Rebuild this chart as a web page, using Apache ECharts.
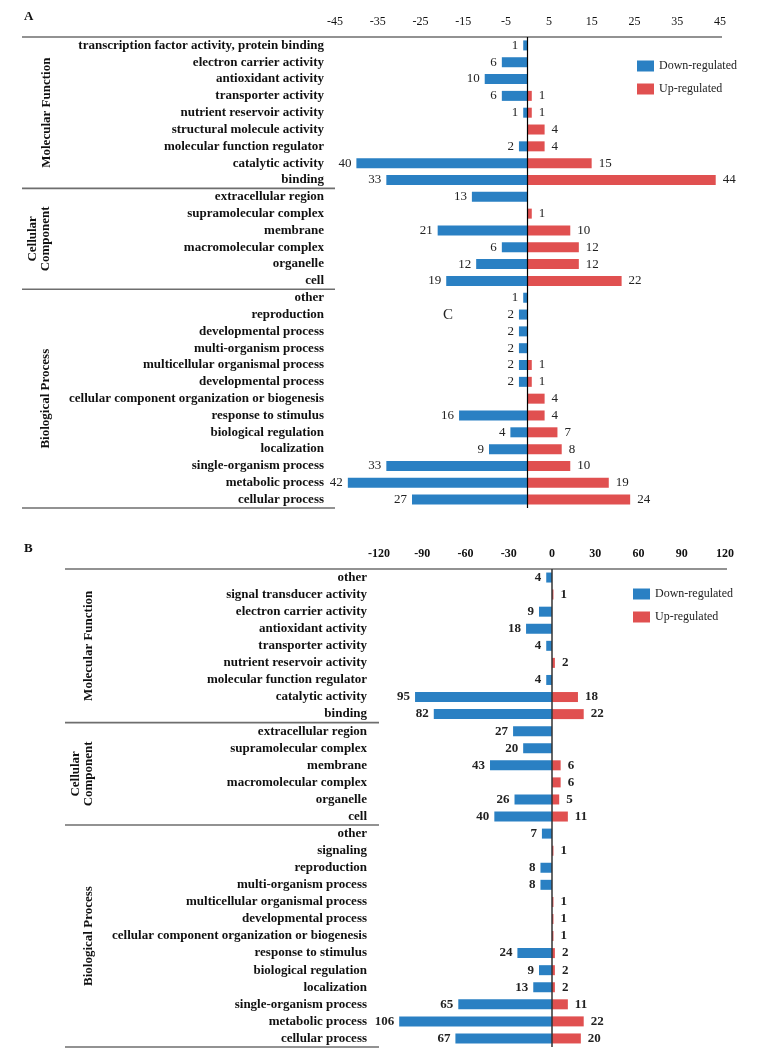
<!DOCTYPE html>
<html>
<head>
<meta charset="utf-8">
<script src="https://cdn.jsdelivr.net/npm/echarts@6/dist/echarts.min.js"></script>
<style>
  html, body { margin: 0; padding: 0; background: #fff; }
  #chart { width: 766px; height: 1057px; }
</style>
</head>
<body>
<div id="chart"></div>
<script>
// panel A
var termsA = [
  'transcription factor activity, protein binding', 'electron carrier activity', 'antioxidant activity',
  'transporter activity', 'nutrient reservoir activity', 'structural molecule activity',
  'molecular function regulator', 'catalytic activity', 'binding',
  'extracellular region', 'supramolecular complex', 'membrane', 'macromolecular complex', 'organelle', 'cell',
  'other', 'reproduction', 'developmental process', 'multi-organism process', 'multicellular organismal process',
  'developmental process ', 'cellular component organization or biogenesis', 'response to stimulus',
  'biological regulation', 'localization', 'single-organism process', 'metabolic process', 'cellular process'
];
var downA = [1, 6, 10, 6, 1, null, 2, 40, 33, 13, null, 21, 6, 12, 19, 1, 2, 2, 2, 2, 2, null, 16, 4, 9, 33, 42, 27];
var upA = [null, null, null, 1, 1, 4, 4, 15, 44, null, 1, 10, 12, 12, 22, null, null, null, null, 1, 1, 4, 4, 7, 8, 10, 19, 24];
var ticksA = [-45, -35, -25, -15, -5, 5, 15, 25, 35, 45];

// panel B
var termsB = [
  'other', 'signal transducer activity', 'electron carrier activity', 'antioxidant activity',
  'transporter activity', 'nutrient reservoir activity', 'molecular function regulator', 'catalytic activity', 'binding',
  'extracellular region', 'supramolecular complex', 'membrane', 'macromolecular complex', 'organelle', 'cell',
  'other ', 'signaling', 'reproduction', 'multi-organism process', 'multicellular organismal process',
  'developmental process', 'cellular component organization or biogenesis', 'response to stimulus',
  'biological regulation', 'localization', 'single-organism process', 'metabolic process', 'cellular process'
];
var downB = [4, null, 9, 18, 4, null, 4, 95, 82, 27, 20, 43, null, 26, 40, 7, null, 8, 8, null, null, null, 24, 9, 13, 65, 106, 67];
var upB = [null, 1, null, null, null, 2, null, 18, 22, null, null, 6, 6, 5, 11, null, 1, null, null, 1, 1, 1, 2, 2, 2, 11, 22, 20];
var ticksB = [-120, -90, -60, -30, 0, 30, 60, 90, 120];

// GO groups: first and last row index
var groups = [
  { name: 'Molecular Function', from: 0, to: 8 },
  { name: 'Cellular\nComponent', from: 9, to: 14 },
  { name: 'Biological Process', from: 15, to: 27 }
];

var BLUE = '#2a80c3', RED = '#e05050';
var SERIF = '"Liberation Serif", "Times New Roman", serif';

function neg(arr) { return arr.map(function (v) { return v == null ? null : -v; }); }
function absFmt(p) { return Math.abs(p.value); }

var chart = echarts.init(document.getElementById('chart'));

function xAxisCfg(gi, min, max, ticks, bold) {
  return {
    type: 'value', gridIndex: gi, position: 'top', min: min, max: max,
    axisLine: { show: false }, axisTick: { show: false }, splitLine: { show: false },
    axisLabel: {
      customValues: ticks, margin: 9, color: '#111',
      fontFamily: SERIF, fontSize: 12, fontWeight: bold ? 'bold' : 'normal'
    }
  };
}
function yAxisCfg(gi, terms) {
  return {
    type: 'category', gridIndex: gi, data: terms, inverse: true,
    axisLine: { show: false }, axisTick: { show: false },
    axisLabel: {
      interval: 0, margin: gi === 0 ? 11 : 12, color: '#111', fontFamily: SERIF, fontSize: 13, fontWeight: 'bold',
      formatter: function (v) { return v.trim(); }
    }
  };
}
function barSeries(name, gi, data, color, pos, bold, zeroLine) {
  var s = {
    name: name, type: 'bar', xAxisIndex: gi, yAxisIndex: gi, stack: 'p' + gi,
    data: data, barWidth: 10,
    itemStyle: { color: color },
    label: {
      show: true, position: pos, distance: pos === 'left' ? 5 : 7, formatter: absFmt,
      color: '#222', fontFamily: SERIF, fontSize: 13, fontWeight: bold ? 'bold' : 'normal'
    }
  };
  if (zeroLine) {
    s.markLine = {
      silent: true, symbol: ['none', 'none'], label: { show: false },
      lineStyle: { color: gi === 0 ? '#000' : '#333', width: gi === 0 ? 1.2 : 1.5, type: 'solid' },
      data: [{ xAxis: 0 }]
    };
  }
  return s;
}
function legendCfg(left, top) {
  return {
    left: left, top: top, orient: 'vertical', itemWidth: 17, itemHeight: 11, itemGap: 11,
    icon: 'rect', data: ['Down-regulated', 'Up-regulated'],
    textStyle: { fontFamily: SERIF, fontSize: 12, color: '#222' }
  };
}

chart.setOption({
  animation: false,
  backgroundColor: '#fff',
  grid: [
    { left: 335, right: 46, top: 37, height: 471 },
    { left: 379, right: 41, top: 569, height: 478 }
  ],
  xAxis: [xAxisCfg(0, -45, 45, ticksA, false), xAxisCfg(1, -120, 120, ticksB, true)],
  yAxis: [yAxisCfg(0, termsA), yAxisCfg(1, termsB)],
  legend: [legendCfg(632, 55), legendCfg(628, 583)],
  series: [
    barSeries('Down-regulated', 0, neg(downA), BLUE, 'left', false, true),
    barSeries('Up-regulated', 0, upA, RED, 'right', false, false),
    barSeries('Down-regulated', 1, neg(downB), BLUE, 'left', true, true),
    barSeries('Up-regulated', 1, upB, RED, 'right', true, false)
  ]
});

// rules, group titles and panel letters, placed from the axes
function py(gi, i) { return chart.convertToPixel({ gridIndex: gi }, [0, i])[1]; }
function px(gi, v) { return chart.convertToPixel({ gridIndex: gi }, [v, 0])[0]; }

var panels = [
  { gi: 0, n: termsA.length, lineLeft: 22, min: -45, max: 45, letter: 'A', letterX: 24, groupX: [47, 39, 46] },
  { gi: 1, n: termsB.length, lineLeft: 65, min: -120, max: 120, letter: 'B', letterX: 24, groupX: [89, 82, 89] }
];
var gfx = [];
panels.forEach(function (p) {
  var band = py(p.gi, 1) - py(p.gi, 0);
  var top = py(p.gi, 0) - band / 2;
  var catRight = px(p.gi, p.min);
  var rule = { stroke: '#6e6e6e', lineWidth: 1.6 };
  gfx.push({ type: 'line', shape: { x1: p.lineLeft, y1: top, x2: px(p.gi, p.max) + 2, y2: top }, style: rule });
  groups.forEach(function (g, k) {
    var bottom = py(p.gi, g.to) + band / 2;
    gfx.push({ type: 'line', shape: { x1: p.lineLeft, y1: bottom, x2: catRight, y2: bottom }, style: rule });
    gfx.push({
      type: 'text', x: p.groupX[k], y: (py(p.gi, g.from) + py(p.gi, g.to)) / 2, rotation: Math.PI / 2,
      style: {
        text: g.name, textAlign: 'center', textVerticalAlign: 'middle', lineHeight: 13,
        font: 'bold 13px ' + SERIF, fill: '#111'
      }
    });
  });
  gfx.push({
    type: 'text', x: p.letterX, y: top - 20,
    style: { text: p.letter, textAlign: 'left', textVerticalAlign: 'middle', font: 'bold 13px ' + SERIF, fill: '#111' }
  });
});
// stray letter in panel A
gfx.push({
  type: 'text', x: 448, y: 315,
  style: { text: 'C', textAlign: 'center', textVerticalAlign: 'middle', font: '15px ' + SERIF, fill: '#222' }
});
chart.setOption({ graphic: gfx });
</script>
</body>
</html>
